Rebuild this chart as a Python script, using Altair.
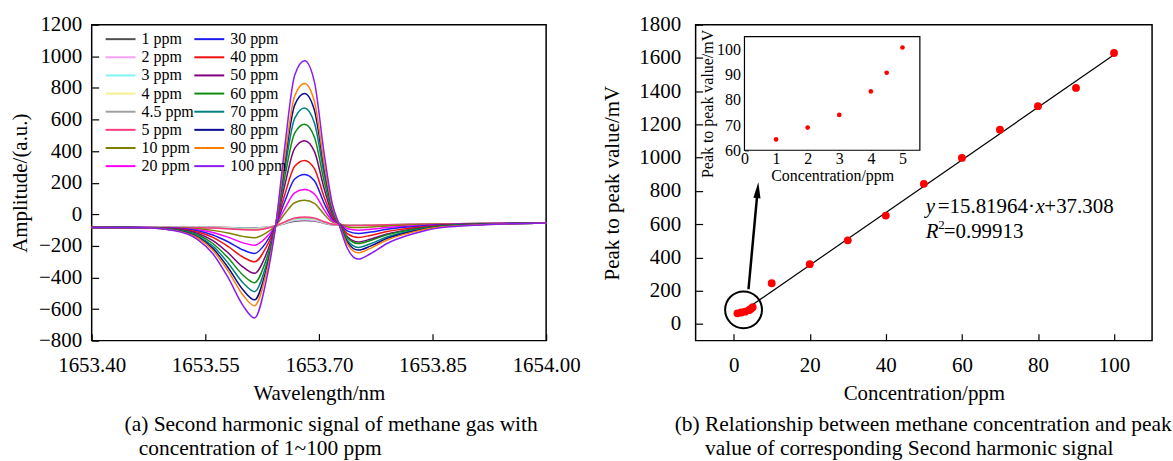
import altair as alt
import pandas as pd

FONT = "Liberation Serif"

# ---------------- (a) second harmonic curves ----------------
wavelength = [1653.40, 1653.47, 1653.51, 1653.54, 1653.56, 1653.58, 1653.60, 1653.615,
              1653.63, 1653.643, 1653.655, 1653.668, 1653.681, 1653.694, 1653.707, 1653.718,
              1653.726, 1653.738, 1653.752, 1653.768, 1653.79, 1653.82, 1653.86, 1653.92, 1654.00]

amp_1 = [-84, -84, -83, -83, -83, -84, -86, -86, -82, -75, -59, -44, -40, -43, -57, -66, -67, -69, -68, -67, -66, -63, -61, -58, -55]
amp_2 = [-84, -84, -83, -83, -84, -86, -88, -88, -83, -75, -57, -39, -35, -39, -55, -65, -66, -69, -68, -67, -66, -63, -61, -58, -55]
amp_3 = [-84, -84, -83, -84, -85, -87, -89, -90, -84, -74, -54, -35, -30, -34, -52, -65, -66, -69, -69, -68, -66, -64, -61, -58, -55]
amp_4 = [-84, -84, -84, -84, -85, -88, -92, -93, -86, -74, -52, -30, -25, -30, -50, -64, -66, -70, -70, -68, -67, -64, -61, -58, -55]
amp_4_5 = [-84, -84, -84, -84, -86, -90, -95, -96, -88, -73, -50, -27, -22, -27, -49, -64, -66, -70, -70, -69, -67, -64, -61, -58, -55]
amp_5 = [-84, -84, -84, -85, -87, -92, -98, -100, -90, -73, -48, -23, -17, -23, -47, -63, -66, -71, -71, -69, -67, -64, -61, -58, -55]
amp_10 = [-84, -84, -86, -92, -102, -119, -140, -149, -120, -71, 3, 73, 88, 69, -1, -50, -57, -80, -84, -80, -74, -68, -62, -59, -55]
amp_20 = [-84, -84, -87, -98, -115, -145, -181, -196, -149, -70, 36, 135, 156, 128, 28, -42, -57, -92, -101, -95, -84, -74, -65, -59, -55]
amp_30 = [-84, -84, -89, -105, -131, -174, -226, -248, -181, -70, 82, 223, 252, 212, 69, -30, -57, -107, -122, -113, -95, -80, -67, -60, -55]
amp_40 = [-84, -85, -91, -112, -146, -203, -272, -301, -213, -70, 125, 304, 341, 289, 108, -19, -57, -124, -147, -134, -109, -88, -70, -61, -55]
amp_50 = [-84, -85, -94, -122, -167, -244, -335, -374, -258, -69, 185, 417, 465, 398, 161, -3, -56, -144, -175, -158, -125, -96, -73, -62, -55]
amp_60 = [-84, -85, -96, -130, -185, -276, -386, -433, -294, -69, 236, 513, 570, 489, 207, 10, -56, -151, -185, -166, -130, -99, -74, -62, -55]
amp_70 = [-84, -85, -99, -138, -201, -308, -435, -490, -328, -69, 285, 607, 673, 579, 251, 23, -56, -168, -210, -187, -144, -107, -77, -63, -55]
amp_80 = [-84, -85, -101, -145, -216, -337, -480, -542, -360, -69, 330, 691, 765, 660, 291, 34, -56, -180, -227, -202, -153, -112, -79, -64, -55]
amp_90 = [-84, -86, -102, -150, -228, -358, -513, -580, -383, -69, 360, 749, 828, 715, 318, 42, -56, -192, -244, -216, -163, -118, -81, -65, -55]
amp_100 = [-84, -86, -105, -160, -250, -400, -580, -657, -430, -69, 430, 880, 972, 840, 380, 60, -55, -220, -284, -250, -185, -130, -85, -66, -55]

series_labels = ["1 ppm", "2 ppm", "3 ppm", "4 ppm", "4.5 ppm", "5 ppm", "10 ppm", "20 ppm",
                 "30 ppm", "40 ppm", "50 ppm", "60 ppm", "70 ppm", "80 ppm", "90 ppm", "100 ppm"]
series_values = [amp_1, amp_2, amp_3, amp_4, amp_4_5, amp_5, amp_10, amp_20,
                 amp_30, amp_40, amp_50, amp_60, amp_70, amp_80, amp_90, amp_100]
series_colors = ["#505050", "#f4a0f4", "#80f4f4", "#f8f090", "#a0a0a0", "#ff3c82", "#7f7f00", "#ff00ff",
                 "#1c1cf0", "#f01010", "#800080", "#108c10", "#008080", "#0a0a96", "#ff8000", "#8a1cf0"]

x_ticks_a = [1653.40, 1653.55, 1653.70, 1653.85, 1654.00]
y_ticks_a = [-800, -600, -400, -200, 0, 200, 400, 600, 800, 1000, 1200]

rows = []
for lab, vals in zip(series_labels, series_values):
    for w, v in zip(wavelength, vals):
        rows.append({"wl": w, "amp": v, "conc": lab})
df_a = pd.DataFrame(rows)

ZW = "\u200b"
NB = "\u00a0"
SIXEM = "\u2006"

left = alt.Chart(df_a).mark_line(strokeWidth=1.5, interpolate="monotone").encode(
    x=alt.X("wl:Q", scale=alt.Scale(domain=[1653.40, 1654.00], nice=False, zero=False),
            axis=alt.Axis(title="Wavelength/nm", values=x_ticks_a, format=".2f", offset=-7, tickSize=7,
                          domain=False, labelPadding=14, titlePadding=7)),
    y=alt.Y("amp:Q", scale=alt.Scale(domain=[-800, 1200], nice=False, zero=False),
            axis=alt.Axis(title="Amplitude/(a.u.)", values=y_ticks_a, format="d", offset=-7, tickSize=7,
                          domain=False, labelPadding=10, titlePadding=8)),
    color=alt.Color("conc:N", sort=series_labels,
                    scale=alt.Scale(domain=series_labels, range=series_colors),
                    legend=alt.Legend(title=None, orient="none", legendX=14, legendY=6.5, columns=2,
                                      symbolType="M-3,0L3,0", symbolSize=100, symbolStrokeWidth=2,
                                      symbolOffset=7, labelOffset=13, rowPadding=2.2, columnPadding=-11,
                                      padding=0, labelFont=FONT, labelFontSize=16, labelColor="black")),
).properties(
    width=456, height=317,
    title=alt.TitleParams(
        text=["(a) Second harmonic signal of methane gas with",
              ZW + NB * 2 + SIXEM + "concentration of 1~100 ppm"],
        orient="bottom", anchor="start", frame="group", dx=33, offset=11,
        font=FONT, fontSize=21.5, fontWeight="normal", lineHeight=24, color="black"),
)

# ---------------- (b) peak-to-peak vs concentration ----------------
conc_ppm = [1, 2, 3, 4, 4.5, 5, 10, 20, 30, 40, 50, 60, 70, 80, 90, 100]
peak_mv = [64.3, 69, 74, 83.3, 90.7, 100.7, 245, 360, 503, 652, 843, 999, 1168, 1310, 1420, 1630]
fit_x = [1, 100]
fit_y = [53.1, 1619.3]

inset_conc = [1, 2, 3, 4, 4.5, 5]
inset_peak = [64.3, 69, 74, 83.3, 90.7, 100.7]

# annotation anchors (data units)
circle_x, circle_y = [2.6], [85]
arrow_x, arrow_y = [3.9, 6.3], [209, 805]
head_x, head_y = [6.3], [805]
eq_x, eq_y1, eq_y2 = 50.5, 706, 556


def xs_b():
    return alt.Scale(domain=[-10, 110], nice=False, zero=False)


def ys_b():
    return alt.Scale(domain=[-100, 1800], nice=False, zero=False)


df_b = pd.DataFrame({"x": conc_ppm, "y": peak_mv})
df_fit = pd.DataFrame({"x": fit_x, "y": fit_y})

pts = alt.Chart(df_b).mark_circle(size=62, color="#ff0000", opacity=1).encode(
    x=alt.X("x:Q", scale=xs_b(),
            axis=alt.Axis(orient="bottom", title="Concentration/ppm", values=[0, 20, 40, 60, 80, 100],
                          offset=-7, tickSize=7, domain=False, labelPadding=14, titlePadding=7)),
    y=alt.Y("y:Q", scale=ys_b(),
            axis=alt.Axis(orient="left", title="Peak to peak value/mV", values=list(range(0, 1801, 200)),
                          format="d", offset=-7, tickSize=7, domain=False, labelPadding=15, titlePadding=16)),
)
fit = alt.Chart(df_fit).mark_line(color="black", strokeWidth=1.2).encode(
    x=alt.X("x:Q", scale=xs_b(), axis=None), y=alt.Y("y:Q", scale=ys_b(), axis=None))

circ = alt.Chart(pd.DataFrame({"x": circle_x, "y": circle_y})).mark_point(
    shape="circle", size=1369, filled=False, stroke="black", strokeWidth=2, opacity=1).encode(
    x=alt.X("x:Q", scale=xs_b(), axis=None), y=alt.Y("y:Q", scale=ys_b(), axis=None))

arrow = alt.Chart(pd.DataFrame({"x": arrow_x, "y": arrow_y})).mark_line(color="black", strokeWidth=2.5).encode(
    x=alt.X("x:Q", scale=xs_b(), axis=None), y=alt.Y("y:Q", scale=ys_b(), axis=None))

head = alt.Chart(pd.DataFrame({"x": head_x, "y": head_y})).mark_point(
    shape="M0,-1L0.45,1L-0.45,1Z", size=256, filled=True, color="black", opacity=1, angle=5).encode(
    x=alt.X("x:Q", scale=xs_b(), axis=None), y=alt.Y("y:Q", scale=ys_b(), axis=None))


def eq_text(txt, y, dx, style="normal", size=21, dy=0):
    return alt.Chart(pd.DataFrame({"x": [eq_x], "y": [y], "t": [txt]})).mark_text(
        align="left", baseline="middle", font=FONT, fontSize=size, fontStyle=style,
        dx=dx, dy=dy, color="black").encode(
        x=alt.X("x:Q", scale=xs_b(), axis=None), y=alt.Y("y:Q", scale=ys_b(), axis=None), text="t:N")


eq_parts = [
    eq_text("y", eq_y1, 0, "italic"),
    eq_text("=15.81964\u00b7", eq_y1, 12),
    eq_text("x", eq_y1, 110, "italic"),
    eq_text("+37.308", eq_y1, 119),
    eq_text("R", eq_y2, 0, "italic"),
    eq_text("2", eq_y2, 12.5, "normal", 13, -7),
    eq_text("=0.99913", eq_y2, 18),
]


# inset (own scales, mapped to a sub-rectangle of the plot)
def xs_in():
    return alt.Scale(domain=[0, 5.55], range=[49, 225], nice=False, zero=False)


def ys_in():
    return alt.Scale(domain=[60, 105], range=[126, 12], nice=False, zero=False)


in_frame = alt.Chart(pd.DataFrame({"x": [0], "x2": [5.55], "y": [60], "y2": [105]})).mark_rect(
    fill="white", stroke="black", strokeWidth=1.2).encode(
    x=alt.X("x:Q", scale=xs_in(), axis=None), x2="x2:Q",
    y=alt.Y("y:Q", scale=ys_in(), axis=None), y2="y2:Q")
in_pts = alt.Chart(pd.DataFrame({"x": inset_conc, "y": inset_peak})).mark_circle(
    size=22, color="#ff0000", opacity=1).encode(
    x=alt.X("x:Q", scale=xs_in(),
            axis=alt.Axis(orient="bottom", title="Concentration/ppm", values=[0, 1, 2, 3, 4, 5], offset=-195,
                          tickSize=4, domain=False, labelPadding=0, titlePadding=1,
                          labelFontSize=16, titleFontSize=16)),
    y=alt.Y("y:Q", scale=ys_in(),
            axis=alt.Axis(orient="left", title="Peak to peak value/mV", values=[60, 70, 80, 90, 100],
                          offset=-53, tickSize=4, domain=False, labelPadding=4, titlePadding=1,
                          labelFontSize=16, titleFontSize=16, titleY=79)),
)

right = alt.layer(fit, pts, circ, arrow, head, *eq_parts, in_frame, in_pts).resolve_scale(
    x="independent", y="independent").properties(
    width=458, height=317,
    title=alt.TitleParams(
        text=["(b) Relationship between methane concentration and peak",
              ZW + NB * 5 + SIXEM + "value of corresponding Second harmonic signal"],
        orient="bottom", anchor="start", frame="group", dx=-21, offset=11,
        font=FONT, fontSize=21.5, fontWeight="normal", lineHeight=24, color="black"),
)

chart = alt.hconcat(left, right, spacing=20).properties(
    padding={"left": 8, "top": 12, "right": 0, "bottom": 0}
).configure_view(
    stroke="black", strokeWidth=1.5
).configure_axis(
    labelFont=FONT, titleFont=FONT, labelFontSize=21, titleFontSize=21, titleFontWeight="normal",
    labelColor="black", titleColor="black", tickColor="black", tickWidth=1.2, grid=False, labelFlush=False
)

chart.save("out.html", embed_options={"renderer": "svg", "actions": False})
